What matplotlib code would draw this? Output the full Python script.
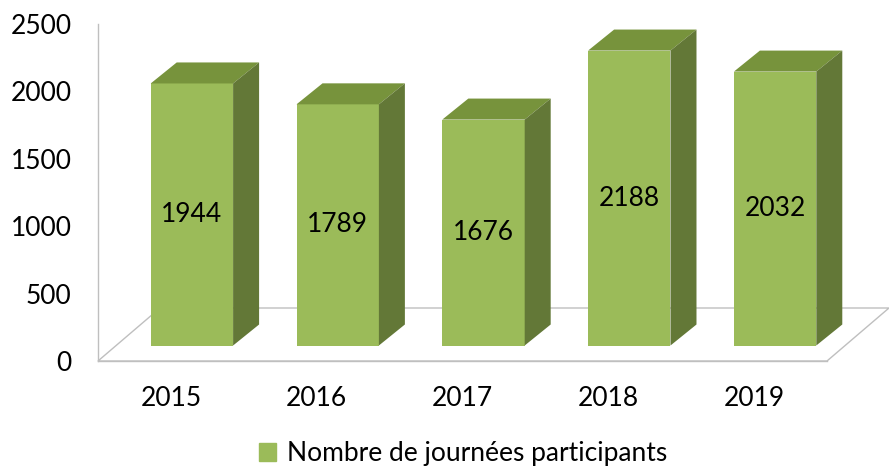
import matplotlib.pyplot as plt
from matplotlib.patches import Polygon, Patch
from matplotlib.transforms import ScaledTranslation, IdentityTransform

years = ['2015', '2016', '2017', '2018', '2019']
values = [1944, 1789, 1676, 2188, 2032]
series_name = 'Nombre de journées participants'
y_ticks = [0, 500, 1000, 1500, 2000, 2500]

front_col = '#9BBB59'
top_col = '#77933C'
side_col = '#637837'
line_col = '#BFBFBF'

plt.rcParams['font.family'] = ['Lato', 'DejaVu Sans']

W, H = 889, 466
fig = plt.figure(figsize=(W / 100, H / 100), dpi=100)
ax = fig.add_axes([98 / W, (H - 361) / H, (827 - 98) / W, (361 - 24) / H])
ax.set_xlim(-0.5, len(years) - 0.5)
ax.set_ylim(0, 2500)
ax.patch.set_alpha(0)

# pseudo 3d offsets in pixels
bar_dx, bar_dy = 21, 15.5      # bar front face vs floor front
depth_dx, depth_dy = 26, 21    # bar depth
floor_dx, floor_dy = 62, 53    # floor depth

def shift(dx, dy):
    return ax.transData + ScaledTranslation(dx / 100, dy / 100, fig.dpi_scale_trans)

# floor
for s in ['top', 'right']:
    ax.spines[s].set_visible(False)
for s in ['left', 'bottom']:
    ax.spines[s].set_color(line_col)
    ax.spines[s].set_linewidth(1)
x0, x1 = -0.5, len(years) - 0.5
p0 = ax.transData.transform((x0, 0))
p1 = ax.transData.transform((x1, 0))
floor = [p0, p1, p1 + (floor_dx, floor_dy), p0 + (floor_dx, floor_dy)]
fig.add_artist(Polygon(floor, closed=True, fill=False, edgecolor=line_col,
                       linewidth=1, transform=IdentityTransform(), zorder=0))

# bars
width = 0.565
ftrans = shift(bar_dx, bar_dy)
ax.bar(range(len(years)), values, width=width, color=front_col,
       transform=ftrans, clip_on=False, zorder=3)
for i, v in enumerate(values):
    br = ax.transData.transform((i + width / 2, 0)) + (bar_dx, bar_dy)
    tl = ax.transData.transform((i - width / 2, v)) + (bar_dx, bar_dy)
    tr = ax.transData.transform((i + width / 2, v)) + (bar_dx, bar_dy)
    d = (depth_dx, depth_dy)
    top = [tl, tr, tr + d, tl + d]
    side = [br, tr, tr + d, br + d]
    fig.add_artist(Polygon(top, closed=True, facecolor=top_col, edgecolor='none',
                           transform=IdentityTransform(), zorder=2))
    fig.add_artist(Polygon(side, closed=True, facecolor=side_col, edgecolor='none',
                           transform=IdentityTransform(), zorder=2))
    ax.text(i, v / 2, str(v), transform=ftrans, ha='center', va='center',
            fontsize=19, color='black', zorder=5)

ax.set_xticks(range(len(years)))
ax.set_xticklabels(years)
ax.set_yticks(y_ticks)
ax.set_yticklabels([str(t) for t in y_ticks])
ax.tick_params(axis='both', length=0, labelsize=19)
ax.tick_params(axis='x', pad=18)
ax.tick_params(axis='y', pad=19)

fig.legend(handles=[Patch(color=front_col)], labels=[series_name],
           loc='center', bbox_to_anchor=(463 / W, (H - 454) / H), frameon=False,
           fontsize=19, handlelength=0.65, handleheight=0.65, handletextpad=0.4)

fig.savefig('out.png', dpi=100)
